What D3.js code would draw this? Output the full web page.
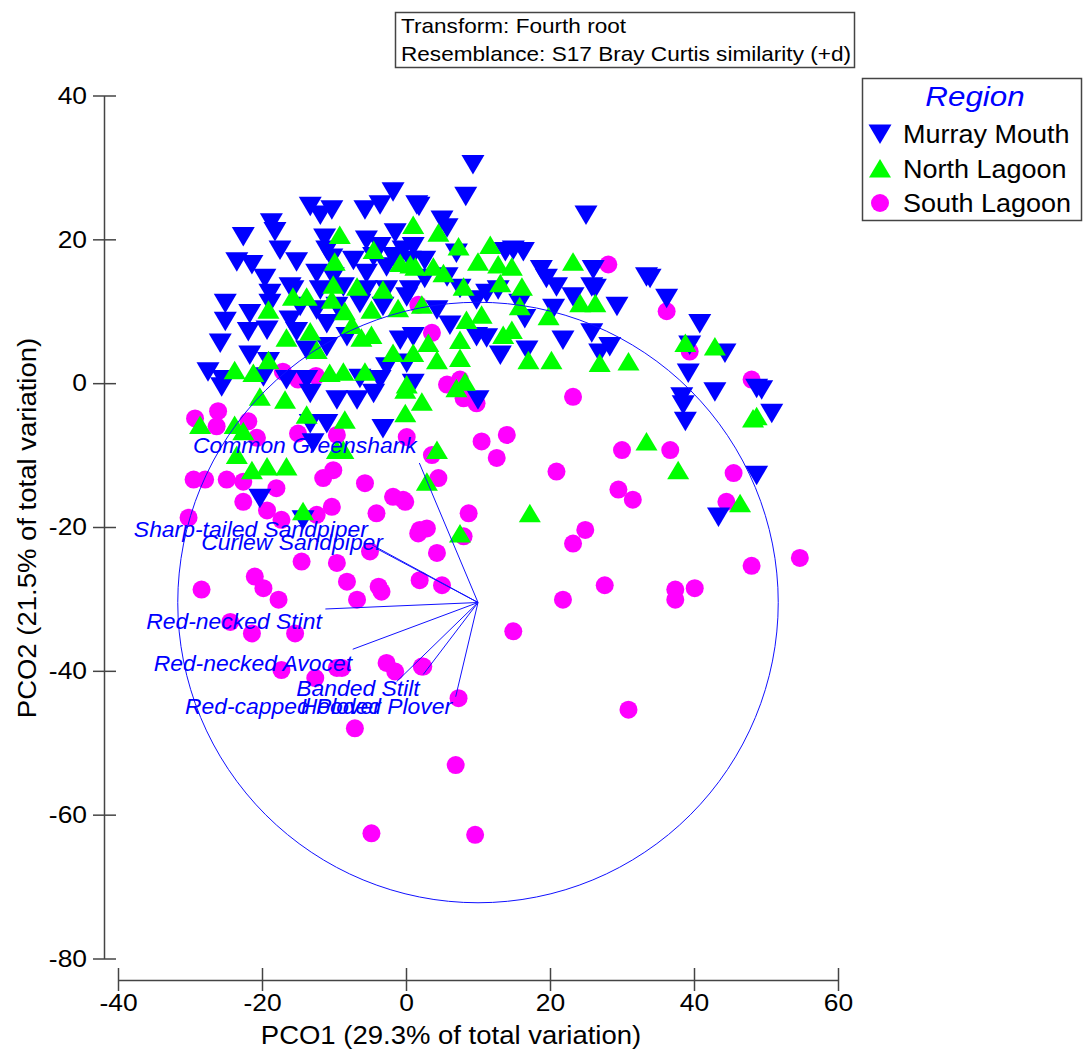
<!DOCTYPE html>
<html>
<head>
<meta charset="utf-8">
<script src="https://cdn.jsdelivr.net/npm/d3@7"></script>
<style>
  body { margin: 0; background: #fff; }
  svg { display: block; font-family: "Liberation Sans", Arial, sans-serif; }
</style>
</head>
<body>
<div id="vis"></div>
<script>
/*************************** data ************************************/
var xTicks = [-40, -20, 0, 20, 40, 60];
var yTicks = [40, 20, 0, -20, -40, -60, -80];

var regions = ["Murray Mouth", "North Lagoon", "South Lagoon"];
var regionColors = ["#0000ff", "#00ff00", "#ff00ff"];

var murrayMouth = [
  [-1.8,26.6],[-13.3,24.6],[-11.9,23.4],[-10.3,24.1],[-5.7,24.1],[-3.6,24.8],[1.5,24.8],[-18.7,22.3],
  [-18.2,21.1],[-22.6,20.4],[-11.3,20.2],[-5.5,19.9],[-1.5,20.9],[-17.5,18.5],[-11.0,18.5],[-3.6,19.0],
  [-0.4,18.5],[-23.5,16.9],[-21.4,16.5],[-15.2,16.9],[-10.3,17.4],[-7.3,17.1],[-4.5,17.6],[-1.8,17.6],
  [-19.6,14.6],[-15.7,13.0],[-12.4,15.3],[-10.1,14.8],[-5.5,15.3],[-2.7,16.2],[0.6,17.1],[-18.9,12.5],
  [-16.1,13.4],[-11.9,13.0],[-8.7,13.4],[-5.5,13.0],[-2.7,13.0],[0.6,13.0],[-25.1,11.1],[-25.1,8.6],
  [-21.7,9.7],[-18.9,11.1],[-14.7,10.7],[-12.4,10.2],[-9.6,10.7],[-6.4,11.1],[-3.2,10.7],[0.1,12.0],
  [-21.9,7.2],[-19.3,7.4],[-16.1,8.8],[-15.2,7.2],[-11.0,8.3],[-8.2,6.5],[-25.8,5.6],[-21.7,3.9],
  [-19.1,3.0],[-13.8,4.6],[-11.0,5.1],[-0.8,6.0],[-2.7,2.3],[-27.5,1.6],[-25.4,0.5],[-19.8,0.9],
  [-16.6,0.5],[-13.8,0.5],[-6.4,0.7],[-3.6,0.5],[0.1,2.8],[1.0,0.0],
  [9.3,30.4],[8.3,26.0],[1.8,24.6],[5.0,22.7],[5.7,21.6],[25.0,23.4],[7.0,18.1],[14.9,18.5],
  [16.3,18.3],[13.8,18.3],[2.6,17.1],[1.0,19.0],[2.6,14.6],[5.7,14.8],[7.5,13.2],[18.8,15.8],
  [19.5,14.6],[20.9,13.4],[26.0,15.8],[25.8,13.4],[33.4,14.8],[29.3,10.7],[23.2,12.0],[11.2,12.5],
  [12.8,13.0],[9.8,11.6],[4.3,10.2],[6.1,8.1],[15.8,11.1],[16.5,9.0],[20.5,10.4],[9.8,6.5],
  [11.2,6.3],[13.1,3.9],[16.8,4.6],[21.8,6.0],[25.8,7.0],[26.9,4.2],[28.3,5.1],[1.0,6.5],
  [33.9,14.6],[36.2,11.8],[40.8,8.3],[26.3,13.2],[39.4,5.3],[44.3,4.2],[39.2,1.4],[42.9,-1.2],
  [38.3,-1.9],[38.5,-3.0],[38.8,-5.3],[48.7,-0.7],[49.4,-0.9],[50.8,-4.2],[48.7,-12.8],[43.4,-18.6],
  [10.0,-2.3],
  [-25.6,-0.5],[-20.3,-16.0],[-14.3,-19.0],[-12.9,-8.3],[-3.2,-6.3],[-13.3,-5.6],[-11.0,-5.6],
  [-9.6,-2.3],[-13.3,-1.4],[-6.8,-2.3],[-4.5,-1.4]
];

var northLagoon = [
  [-9.2,20.6],[1.0,22.0],[-9.9,16.9],[-4.5,18.5],[-0.8,16.7],[0.6,16.5],[-15.7,12.0],[-13.8,12.0],
  [-10.1,13.7],[-6.8,13.4],[-3.2,13.0],[-10.3,11.6],[-8.5,10.0],[-4.8,10.2],[-1.1,10.4],[-19.1,10.2],
  [-16.6,6.3],[-13.3,7.2],[-7.5,8.1],[-6.2,6.3],[-4.8,6.7],[-12.4,4.6],[-1.8,4.2],[1.0,4.2],
  [-23.8,1.8],[-21.2,1.4],[-19.1,3.2],[-10.6,1.4],[-8.7,1.6],[-5.7,1.6],[0.1,-0.2],
  [4.5,20.9],[7.3,19.0],[11.7,19.2],[10.0,16.9],[12.8,16.5],[14.7,16.2],[23.2,16.9],[16.1,13.4],
  [3.8,16.2],[5.2,15.3],[1.3,16.2],[2.2,10.9],[8.0,13.4],[13.1,13.9],[15.8,10.7],[19.8,9.3],
  [24.2,11.1],[26.3,11.1],[8.4,8.8],[10.5,9.5],[7.5,6.0],[13.5,6.7],[14.7,7.4],[3.1,5.6],
  [4.3,3.2],[7.5,3.5],[17.0,3.2],[20.2,3.2],[26.9,2.8],[30.9,3.0],[8.2,0.2],
  [38.8,5.6],[42.9,5.1],[48.2,-4.9],[48.7,-4.6],[33.4,-8.1],[37.8,-12.1],[46.4,-16.7],
  [7.0,-0.7],[-0.1,-0.9],[2.2,-2.6],[-0.1,-4.2],[4.3,-9.3],[2.9,-13.7],[17.2,-18.1],[7.5,-20.9],
  [-28.6,-5.8],[-22.6,-6.7],[-23.5,-10.0],[-21.4,-12.1],[-19.3,-11.6],[-16.6,-11.6],[-13.8,-4.4],
  [-8.5,-5.1],[-14.3,-17.8],[-20.3,-1.9],[-16.8,-2.3],[-8.7,-9.3],[-23.8,-5.8],[-9.6,-9.3]
];

var southLagoon = [
  [-17.1,1.6],[-12.5,1.0],[-15.0,0.5],[1.7,10.9],[3.6,7.0],[5.7,-0.2],[7.5,0.5],[28.1,16.5],
  [36.2,10.0],[39.4,4.4],[48.0,0.5],[30.0,-9.3],[36.7,-9.3],[45.5,-12.5],[29.5,-14.8],[31.5,-16.2],
  [44.5,-16.5],
  [8.0,-2.1],[9.8,-2.8],[23.2,-1.9],[0.1,-7.5],[10.5,-8.1],[14.0,-7.2],[12.6,-10.4],[3.6,-10.0],
  [4.5,-13.2],[20.9,-12.3],[-0.1,-16.5],[8.7,-18.1],[1.9,-20.4],[2.9,-20.2],[8.0,-21.3],[4.3,-23.6],
  [24.9,-20.4],[23.2,-22.3],[1.9,-27.4],[5.0,-28.1],[27.6,-28.1],[21.8,-30.1],[37.4,-28.7],[37.4,-30.1],
  [40.1,-28.5],[48.0,-25.4],[54.7,-24.3],[14.9,-34.5],[2.2,-39.4],[7.3,-43.8],[30.9,-45.4],
  [-29.3,-4.9],[-26.1,-3.9],[-26.3,-6.0],[-21.9,-5.3],[-20.7,-7.6],[-15.0,-7.0],[-9.6,-7.2],
  [-29.5,-13.4],[-27.9,-13.4],[-24.9,-13.4],[-22.6,-13.7],[-18.0,-14.6],[-11.5,-13.2],[-10.1,-12.1],
  [-5.7,-13.9],[-22.6,-16.5],[-19.3,-17.7],[-17.3,-19.0],[-12.4,-18.3],[-10.3,-17.2],[-4.1,-18.1],
  [-1.8,-15.8],[-0.4,-16.2],[1.7,-20.9],[-30.2,-18.7],[-14.5,-24.8],[-9.6,-25.0],[-5.0,-23.4],
  [-21.0,-26.9],[-19.8,-28.5],[-17.7,-30.1],[-8.2,-27.6],[-6.8,-30.1],[-3.8,-28.3],[-3.4,-29.0],
  [-28.4,-28.7],
  [-24.4,-33.2],[-21.4,-34.8],[-15.4,-34.8],[-17.3,-39.9],[-12.6,-41.0],[-9.6,-39.6],[-8.9,-39.6],
  [-2.7,-38.9],[-1.5,-40.1],[2.4,-39.4],[-7.1,-48.0],[6.9,-53.1],[-4.8,-62.6],[9.6,-62.8]
];

// vector overlay (species correlations)
var vectorOrigin = [10.0, -30.5];
var circleRadius = 41.7;
var vectorNames = ["Common Greenshank", "Sharp-tailed Sandpiper", "Curlew Sandpiper",
  "Red-necked Stint", "Red-necked Avocet", "Banded Stilt", "Red-capped Plover", "Hooded Plover"];
var vectorEnds = [[1.85,-11.1],[-4.7,-22.5],[-3.9,-23.1],[-11.2,-31.4],[-7.4,-37.0],
  [2.4,-40.5],[-1.3,-41.5],[6.9,-43.6]];
var vectorLabelAt = [[1.5,-9.7],[-5.3,-21.4],[-3.2,-23.2],[-11.7,-34.2],[-7.5,-40.0],
  [1.9,-43.5],[-3.5,-46.0],[6.4,-46.0]];

var titleLines = ["Transform: Fourth root", "Resemblance: S17 Bray Curtis similarity (+d)"];

/*************************** chart ************************************/
var W = 1083, H = 1051;
var svg = d3.select("div#vis").append("svg")
    .attr("width", W)
    .attr("height", H);

var x = d3.scaleLinear().domain([-40, 60]).range([118, 838]);
var y = d3.scaleLinear().domain([40, -80]).range([95.5, 958.5]);

var axisColor = "#444";
var plain = function(d) { return String(d); };   // keep ascii hyphen for negatives

// y axis
var yAxis = svg.append("g")
    .attr("transform", "translate(104,0)")
    .call(d3.axisLeft(y).tickValues(yTicks).tickFormat(plain)
        .tickSizeInner(11).tickSizeOuter(0).tickPadding(6));
yAxis.selectAll("line").clone().attr("x2", 12);
// x axis
var xAxis = svg.append("g")
    .attr("transform", "translate(0,980)")
    .call(d3.axisBottom(x).tickValues(xTicks).tickFormat(plain)
        .tickSizeInner(11).tickSizeOuter(0).tickPadding(3));
xAxis.selectAll("line").clone().attr("y2", -12);

[yAxis, xAxis].forEach(function(g) {
    g.selectAll("path, line").attr("stroke", axisColor).attr("stroke-width", 1.5);
    g.selectAll("text")
        .attr("fill", "#000")
        .style("font-size", "24px")
        .style("font-family", "'Liberation Sans', Arial, sans-serif");
});
xAxis.selectAll("text").attr("transform", "scale(1.1,1)").attr("x", 0);
yAxis.selectAll("text").attr("transform", "translate(-17,0) scale(1.1,1)").attr("x", 0);

// the source renders its type a little wide, so text is stretched horizontally
svg.append("text")
    .attr("transform", "translate(451,1044) scale(1.1,1)")
    .attr("text-anchor", "middle")
    .style("font-size", "25px")
    .text("PCO1 (29.3% of total variation)");

svg.append("text")
    .attr("transform", "translate(36,528) rotate(-90) scale(1.1,1)")
    .attr("text-anchor", "middle")
    .style("font-size", "25px")
    .text("PCO2 (21.5% of total variation)");

// markers
var symbols = {
    "Murray Mouth": "M-11.5,-9.5L11.5,-9.5L0,10Z",
    "North Lagoon": "M0,-9.5L11,9L-11,9Z"
};
function drawPoints(pts, region) {
    var i = regions.indexOf(region);
    var g = svg.append("g").attr("class", "pts");
    if (region === "South Lagoon") {
        g.selectAll("circle").data(pts).enter().append("circle")
            .attr("cx", function(d) { return x(d[0]); })
            .attr("cy", function(d) { return y(d[1]); })
            .attr("r", 9)
            .attr("fill", regionColors[i]);
    } else {
        g.selectAll("path").data(pts).enter().append("path")
            .attr("d", symbols[region])
            .attr("transform", function(d) { return "translate(" + x(d[0]) + "," + y(d[1]) + ")"; })
            .attr("fill", regionColors[i]);
    }
}
drawPoints(southLagoon, "South Lagoon");
drawPoints(murrayMouth, "Murray Mouth");
drawPoints(northLagoon, "North Lagoon");

// vector circle + lines
var vecColor = "#1010ff";
svg.append("circle")
    .attr("cx", x(vectorOrigin[0]))
    .attr("cy", y(vectorOrigin[1]))
    .attr("r", x(circleRadius) - x(0))
    .attr("fill", "none")
    .attr("stroke", vecColor)
    .attr("stroke-width", 1);

svg.append("g").selectAll("line").data(vectorEnds).enter().append("line")
    .attr("x1", x(vectorOrigin[0]))
    .attr("y1", y(vectorOrigin[1]))
    .attr("x2", function(d) { return x(d[0]); })
    .attr("y2", function(d) { return y(d[1]); })
    .attr("stroke", vecColor)
    .attr("stroke-width", 1);

svg.append("g").selectAll("text").data(vectorNames).enter().append("text")
    .attr("transform", function(d, i) {
        return "translate(" + x(vectorLabelAt[i][0]) + "," + y(vectorLabelAt[i][1]) + ") scale(1.04,1)";
    })
    .attr("text-anchor", "end")
    .attr("fill", "#0000ff")
    .style("font-size", "22px")
    .style("font-style", "italic")
    .text(function(d) { return d; });

// title box
svg.append("rect")
    .attr("x", 395.5).attr("y", 12.5)
    .attr("width", 459).attr("height", 55)
    .attr("fill", "#fff")
    .attr("stroke", "#444")
    .attr("stroke-width", 1.5);
svg.append("g").selectAll("text").data(titleLines).enter().append("text")
    .attr("transform", function(d, i) { return "translate(401," + (33 + i * 28) + ") scale(1.13,1)"; })
    .style("font-size", "20px")
    .text(function(d) { return d; });

// legend
var legend = svg.append("g").attr("class", "legends");
legend.append("rect")
    .attr("x", 862.5).attr("y", 78.5)
    .attr("width", 219).attr("height", 142)
    .attr("fill", "#fff")
    .attr("stroke", "#444")
    .attr("stroke-width", 1.5);
legend.append("text")
    .attr("class", "legend-title")
    .attr("transform", "translate(975,106) scale(1.12,1)")
    .attr("text-anchor", "middle")
    .attr("fill", "#0000ff")
    .style("font-size", "28px")
    .style("font-style", "italic")
    .text("Region");

var legendElems = legend.selectAll("g.legend-elem")
    .data(regions)
  .enter().append("g")
    .attr("class", "legend-elem")
    .attr("transform", function(d, i) { return "translate(880," + (134 + i * 34.5) + ")"; });

legendElems.each(function(d, i) {
    var g = d3.select(this);
    if (d === "South Lagoon")
        g.append("circle").attr("r", 9).attr("fill", regionColors[i]);
    else
        g.append("path").attr("d", symbols[d]).attr("fill", regionColors[i]);
});
legendElems.append("text")
    .attr("transform", "translate(23,9) scale(1.08,1)")
    .style("font-size", "25px")
    .text(function(d) { return d; });
</script>
</body>
</html>
